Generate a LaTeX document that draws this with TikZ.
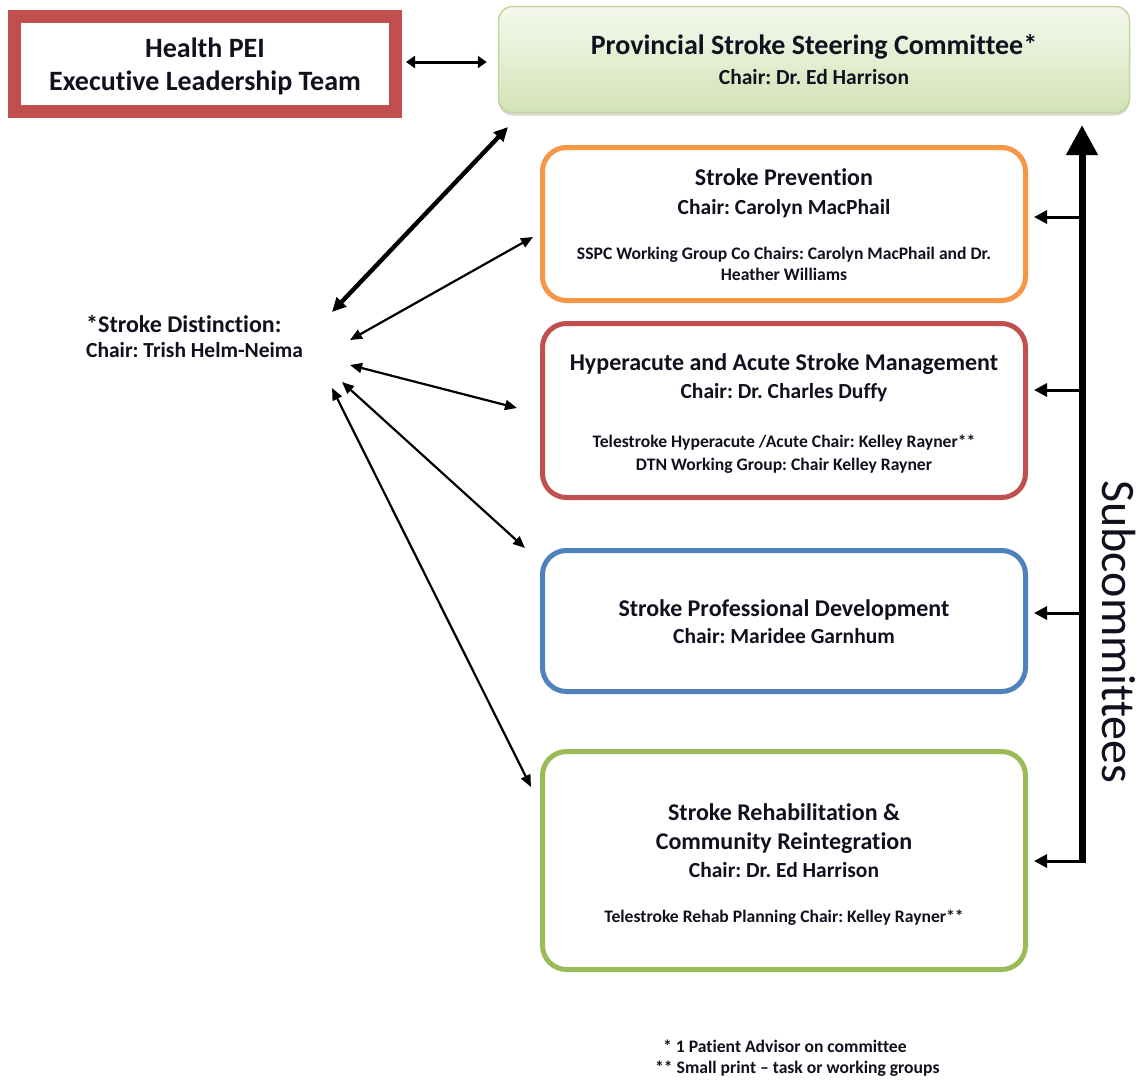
\documentclass[tikz,border=0pt]{standalone}
\usepackage{fontspec}
\setmainfont{Carlito}[Ligatures={NoCommon}]
\usetikzlibrary{arrows.meta,shadows}
\definecolor{hred}{HTML}{C0504D}
\definecolor{horange}{HTML}{F79646}
\definecolor{hblue}{HTML}{4F81BD}
\definecolor{hgreen}{HTML}{9BBB59}
\definecolor{sgreenA}{HTML}{F5F9EE}
\definecolor{sgreenB}{HTML}{D3E2B5}
\definecolor{sgreenL}{HTML}{C3D69B}
\definecolor{txt}{HTML}{10101E}
\frenchspacing
\begin{document}
\begin{tikzpicture}[x=1pt,y=-1pt,
  subbox/.style={draw, line width=5pt, rounded corners=24pt, minimum width=483pt, inner sep=0pt, fill=white},
  fbig/.style={font=\bfseries\fontsize{28}{32}\selectfont, anchor=base, inner sep=0pt, text=txt},
  ftitle/.style={font=\bfseries\fontsize{24}{28}\selectfont, anchor=base, inner sep=0pt, text=txt},
  fchair/.style={font=\bfseries\fontsize{21.5}{25}\selectfont, anchor=base, inner sep=0pt, text=txt},
  fsmall/.style={font=\bfseries\fontsize{17.6}{20}\selectfont, anchor=base, inner sep=0pt, text=txt},
  link/.style={line width=2.2pt, {Triangle[length=12pt,width=10pt]}-{Triangle[length=12pt,width=10pt]}},
  branch/.style={line width=3pt, -{Triangle[length=13pt,width=13pt]}},
]
\useasboundingbox (0,0) rectangle (1142,1085);
\fill[white] (0,0) rectangle (1142,1085);

% top row
\node[draw=hred, line width=13pt, minimum width=381pt, minimum height=95pt, inner sep=0pt] (exec) at (205,64) {};
\node[fbig] (execA) at (205,57) {Health PEI};
\node[fbig] (execB) at (205,90) {Executive Leadership Team};

\node[draw=sgreenL, line width=1.5pt, rounded corners=14pt, minimum width=631pt, minimum height=106pt, inner sep=0pt,
      top color=sgreenA, bottom color=sgreenB,
      drop shadow={opacity=0.3, shadow xshift=0pt, shadow yshift=-3pt}] (steer) at (814,59.5) {};
\node[fbig] (steerA) at (814,54) {Provincial Stroke Steering Committee*};
\node[fchair] (steerB) at (814,84) {Chair: Dr. Ed Harrison};

\draw[line width=3pt, {Triangle[length=9pt,width=12pt]}-{Triangle[length=9pt,width=12pt]}] (exec.east) ++(4,-2) coordinate (ea) -- ([xshift=-11pt]steer.west |- ea) coordinate (eb);

% subcommittee boxes
\node[subbox, draw=horange, minimum height=153pt] (prev) at (784,224) {};
\node[ftitle] (prevA) at (784,185) {Stroke Prevention};
\node[fchair] (prevB) at (784,214) {Chair: Carolyn MacPhail};
\node[fsmall] (prevC) at (784,259) {SSPC Working Group Co Chairs: Carolyn MacPhail and Dr.};
\node[fsmall] (prevD) at (784,280) {Heather Williams};

\node[subbox, draw=hred, minimum height=174pt] (hyper) at (784,410.5) {};
\node[ftitle] (hyperA) at (784,370) {Hyperacute and Acute Stroke Management};
\node[fchair] (hyperB) at (784,398) {Chair: Dr. Charles Duffy};
\node[fsmall] (hyperC) at (784,447) {Telestroke Hyperacute /Acute Chair: Kelley Rayner**};
\node[fsmall] (hyperD) at (784,470) {DTN Working Group: Chair Kelley Rayner};

\node[subbox, draw=hblue, minimum height=141pt] (prof) at (784,621) {};
\node[ftitle] (profA) at (784,616) {Stroke Professional Development};
\node[fchair] (profB) at (784,643) {Chair: Maridee Garnhum};

\node[subbox, draw=hgreen, minimum height=218pt] (rehab) at (784,860.5) {};
\node[ftitle] (rehabA) at (784,820) {Stroke Rehabilitation \&};
\node[ftitle] (rehabB) at (784,849) {Community Reintegration};
\node[fchair] (rehabC) at (784,877) {Chair: Dr. Ed Harrison};
\node[fsmall] (rehabD) at (784,922) {Telestroke Rehab Planning Chair: Kelley Rayner**};

% stroke distinction
\node[ftitle, anchor=base west] (distA) at (86,332) {*Stroke Distinction:};
\node[fchair, anchor=base west] (distB) at (86,357) {Chair: Trish Helm-Neima};

% diagonal links
\coordinate (d1) at (332,312); \coordinate (e1) at (508,127);
\coordinate (d2) at (350,340); \coordinate (e2) at (533,237);
\coordinate (d3) at (350,365); \coordinate (e3) at (517,408);
\coordinate (d4) at (342,382); \coordinate (e4) at (525,548);
\coordinate (d5) at (332,388); \coordinate (e5) at (531,787);
\draw[link, line width=4.4pt, {Triangle[length=14pt,width=13pt]}-{Triangle[length=14pt,width=13pt]}] (d1) -- (e1);
\draw[link] (d2) -- (e2);
\draw[link] (d3) -- (e3);
\draw[link] (d4) -- (e4);
\draw[link] (d5) -- (e5);

% subcommittee spine
\coordinate (spbot) at (1082,862.5);
\coordinate (sptop) at (1082,125);
\coordinate (s1) at (1082,217);  \coordinate (t1) at (1034,217);
\coordinate (s2) at (1082,390);  \coordinate (t2) at (1034,390);
\coordinate (s3) at (1082,613);  \coordinate (t3) at (1034,613);
\coordinate (s4) at (1085.5,861); \coordinate (t4) at (1034,861);
\draw[line width=7pt, -{Triangle[length=30pt,width=30pt]}] (spbot) -- (sptop);
\draw[branch] (s1) -- (t1);
\draw[branch] (s2) -- (t2);
\draw[branch] (s3) -- (t3);
\draw[branch] (s4) -- (t4);
\node[font=\fontsize{48}{52}\selectfont, rotate=-90, inner sep=0pt, text=txt] (subc) at (1119,632) {Subcommittees};

% footnotes
\node[fsmall, anchor=base west] (fn1) at (663,1052) {* 1 Patient Advisor on committee};
\node[fsmall, anchor=base west] (fn2) at (655,1073) {** Small print – task or working groups};
\end{tikzpicture}
\end{document}
